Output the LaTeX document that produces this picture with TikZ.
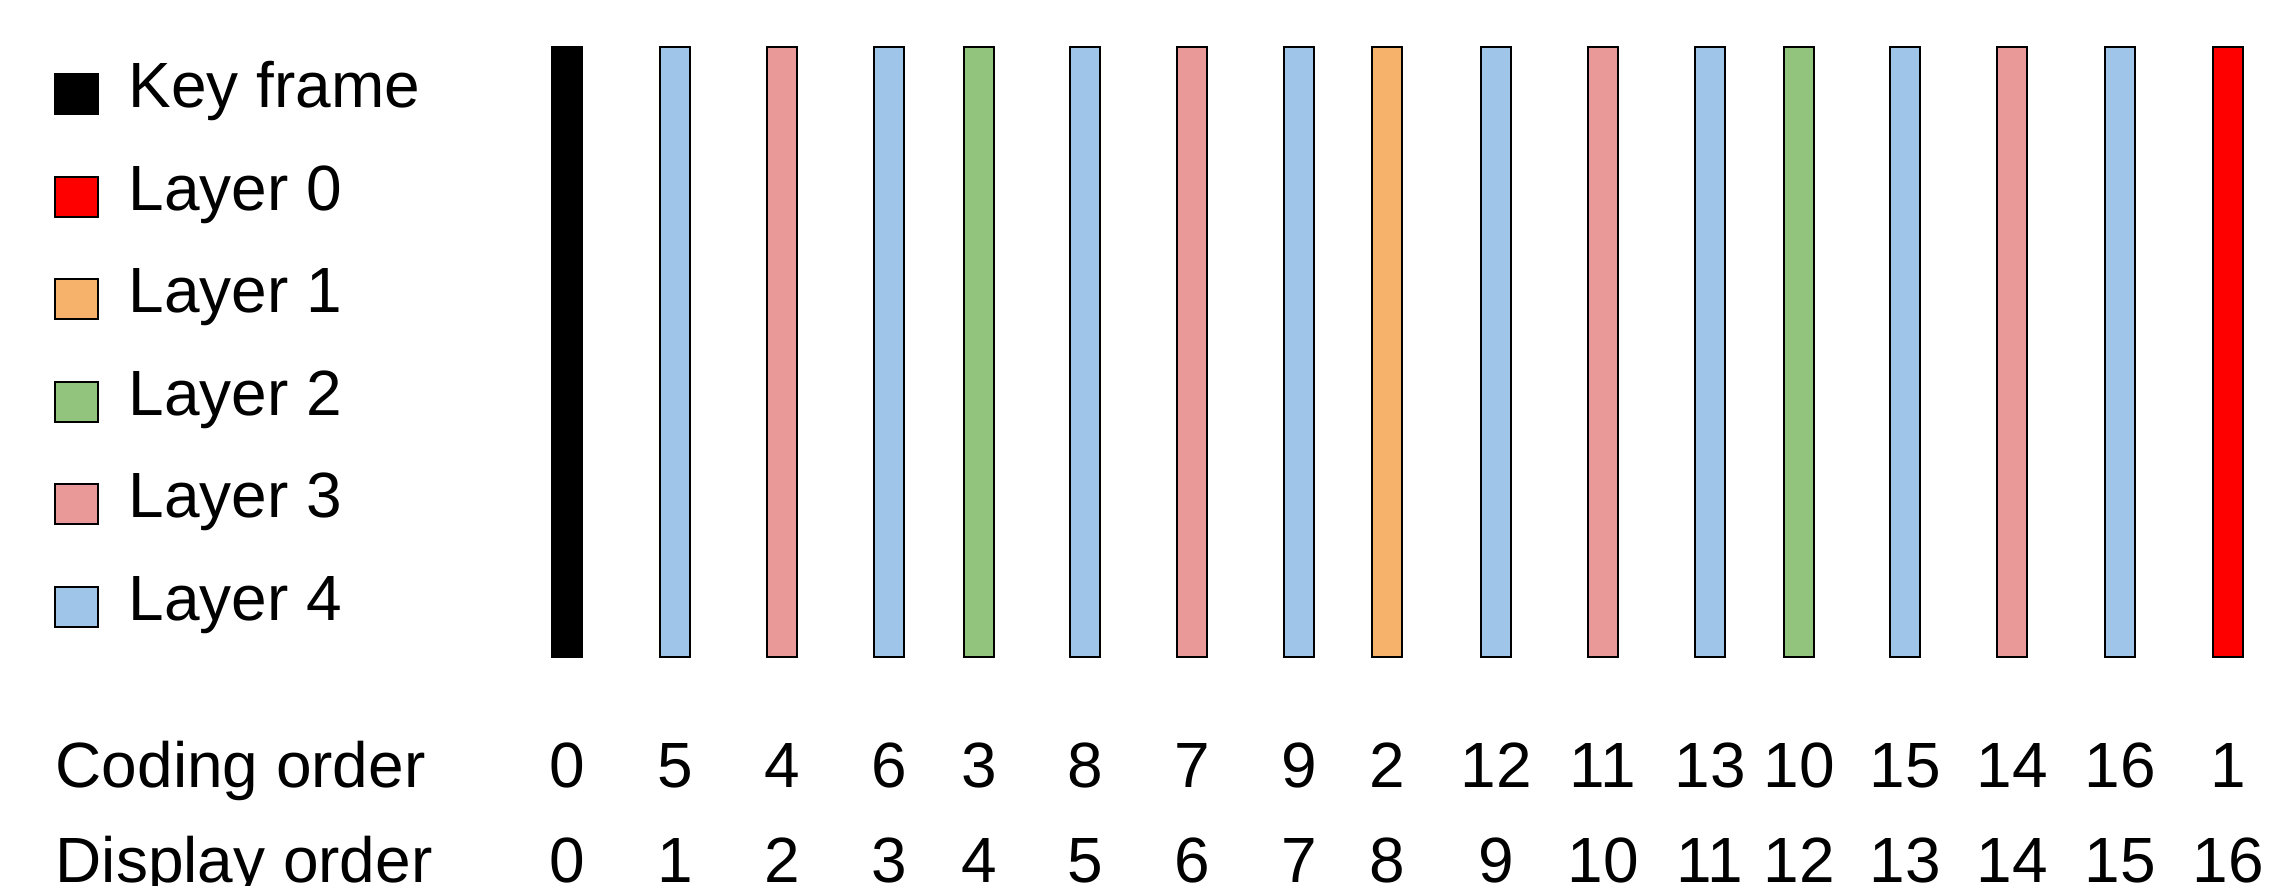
\documentclass[tikz,border=0pt]{standalone}
\usepackage{fontspec}
\setmainfont{Liberation Sans}
\usetikzlibrary{positioning}
\definecolor{layerzero}{RGB}{255,0,0}
\definecolor{layerone}{RGB}{246,178,107}
\definecolor{layertwo}{RGB}{147,196,125}
\definecolor{layerthree}{RGB}{234,153,153}
\definecolor{layerfour}{RGB}{159,197,232}

\begin{document}
\begin{tikzpicture}[
  font=\fontsize{18.2}{22}\selectfont,
  framebar/.style={draw=black, line width=0.6pt, inner sep=0pt, anchor=north,
    minimum width=0.3cm, minimum height=6.1cm},
  keybar/.style={framebar, fill=black},
  bar0/.style={framebar, fill=layerzero},
  bar1/.style={framebar, fill=layerone},
  bar2/.style={framebar, fill=layertwo},
  bar3/.style={framebar, fill=layerthree},
  bar4/.style={framebar, fill=layerfour},
  swatch/.style={draw=black, line width=0.6pt, inner sep=0pt,
    minimum width=0.43cm, minimum height=0.40cm},
  legendtext/.style={anchor=base west, inner sep=0pt},
  rowlabel/.style={anchor=base west, inner sep=0pt},
  num/.style={anchor=base, inner sep=0pt},
]
\useasboundingbox (0,0) rectangle (22.7,-8.85);

% --- Legend ---
\node[swatch, fill=black] (skey) at (0.765,-0.94) {};
\node[swatch, fill=layerzero] (szero) at (0.765,-1.97) {};
\node[swatch, fill=layerone] (sone) at (0.765,-2.99) {};
\node[swatch, fill=layertwo] (stwo) at (0.765,-4.02) {};
\node[swatch, fill=layerthree] (sthree) at (0.765,-5.04) {};
\node[swatch, fill=layerfour] (sfour) at (0.765,-6.07) {};
\node[legendtext] (tkey) at (1.28,-1.07) {Key frame};
\node[legendtext] (tzero) at (1.28,-2.10) {Layer 0};
\node[legendtext] (tone) at (1.28,-3.12) {Layer 1};
\node[legendtext] (ttwo) at (1.28,-4.15) {Layer 2};
\node[legendtext] (tthree) at (1.28,-5.17) {Layer 3};
\node[legendtext] (tfour) at (1.28,-6.20) {Layer 4};

% --- Frames in display order ---
\node[keybar] (f0) at (5.67,-0.46) {};
\node[bar4] (f1) at (6.75,-0.46) {};
\node[bar3] (f2) at (7.82,-0.46) {};
\node[bar4] (f3) at (8.89,-0.46) {};
\node[bar2] (f4) at (9.79,-0.46) {};
\node[bar4] (f5) at (10.85,-0.46) {};
\node[bar3] (f6) at (11.92,-0.46) {};
\node[bar4] (f7) at (12.99,-0.46) {};
\node[bar1] (f8) at (13.87,-0.46) {};
\node[bar4] (f9) at (14.96,-0.46) {};
\node[bar3] (f10) at (16.03,-0.46) {};
\node[bar4] (f11) at (17.10,-0.46) {};
\node[bar2] (f12) at (17.99,-0.46) {};
\node[bar4] (f13) at (19.05,-0.46) {};
\node[bar3] (f14) at (20.12,-0.46) {};
\node[bar4] (f15) at (21.20,-0.46) {};
\node[bar0] (f16) at (22.28,-0.46) {};

% --- Row labels ---
\node[rowlabel] (coding) at (0.55,-7.87) {Coding order};
\node[rowlabel] (display) at (0.55,-8.82) {Display order};

% --- Coding order ---
\node[num] (c0) at (f0.south |- coding.base) {0};
\node[num] (c1) at (f1.south |- coding.base) {5};
\node[num] (c2) at (f2.south |- coding.base) {4};
\node[num] (c3) at (f3.south |- coding.base) {6};
\node[num] (c4) at (f4.south |- coding.base) {3};
\node[num] (c5) at (f5.south |- coding.base) {8};
\node[num] (c6) at (f6.south |- coding.base) {7};
\node[num] (c7) at (f7.south |- coding.base) {9};
\node[num] (c8) at (f8.south |- coding.base) {2};
\node[num] (c9) at (f9.south |- coding.base) {12};
\node[num] (c10) at (f10.south |- coding.base) {11};
\node[num] (c11) at (f11.south |- coding.base) {13};
\node[num] (c12) at (f12.south |- coding.base) {10};
\node[num] (c13) at (f13.south |- coding.base) {15};
\node[num] (c14) at (f14.south |- coding.base) {14};
\node[num] (c15) at (f15.south |- coding.base) {16};
\node[num] (c16) at (f16.south |- coding.base) {1};

% --- Display order ---
\node[num] (d0) at (f0.south |- display.base) {0};
\node[num] (d1) at (f1.south |- display.base) {1};
\node[num] (d2) at (f2.south |- display.base) {2};
\node[num] (d3) at (f3.south |- display.base) {3};
\node[num] (d4) at (f4.south |- display.base) {4};
\node[num] (d5) at (f5.south |- display.base) {5};
\node[num] (d6) at (f6.south |- display.base) {6};
\node[num] (d7) at (f7.south |- display.base) {7};
\node[num] (d8) at (f8.south |- display.base) {8};
\node[num] (d9) at (f9.south |- display.base) {9};
\node[num] (d10) at (f10.south |- display.base) {10};
\node[num] (d11) at (f11.south |- display.base) {11};
\node[num] (d12) at (f12.south |- display.base) {12};
\node[num] (d13) at (f13.south |- display.base) {13};
\node[num] (d14) at (f14.south |- display.base) {14};
\node[num] (d15) at (f15.south |- display.base) {15};
\node[num] (d16) at (f16.south |- display.base) {16};

\end{tikzpicture}
\end{document}
